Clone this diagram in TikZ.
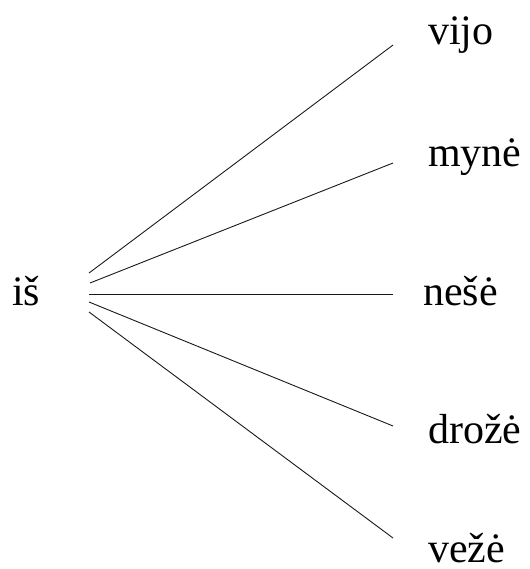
\documentclass[tikz,border=0pt]{standalone}
\usepackage{fontspec}
\setmainfont{Liberation Serif}
\begin{document}
\begin{tikzpicture}[x=1pt,y=1pt,
  word/.style={anchor=base west,inner sep=0pt,text depth=0pt,font=\fontsize{42}{46}\selectfont},
  branch/.style={line width=0.9pt,draw=black!90}]
\useasboundingbox (0,0) rectangle (529,-569);
\node[word] (is) at (12,-305) {iš};
\node[word] (vijo) at (428,-45) {vijo};
\node[word] (myne) at (428,-167) {mynė};
\node[word] (nese) at (423,-305) {nešė};
\node[word] (droze) at (428,-443) {drožė};
\node[word] (veze) at (428,-562) {vežė};
\coordinate (s1) at (89,-273);
\coordinate (s2) at (90,-283);
\coordinate (s3) at (89,-294);
\coordinate (s4) at (89,-302);
\coordinate (s5) at (89,-312);
\coordinate (e1) at (393,-45);
\coordinate (e2) at (393,-163);
\coordinate (e3) at (393,-294);
\coordinate (e4) at (393,-426);
\coordinate (e5) at (393,-538);
\draw[branch] (s1) -- (e1);
\draw[branch] (s2) -- (e2);
\draw[branch] (s3) -- (e3);
\draw[branch] (s4) -- (e4);
\draw[branch] (s5) -- (e5);
\end{tikzpicture}
\end{document}
